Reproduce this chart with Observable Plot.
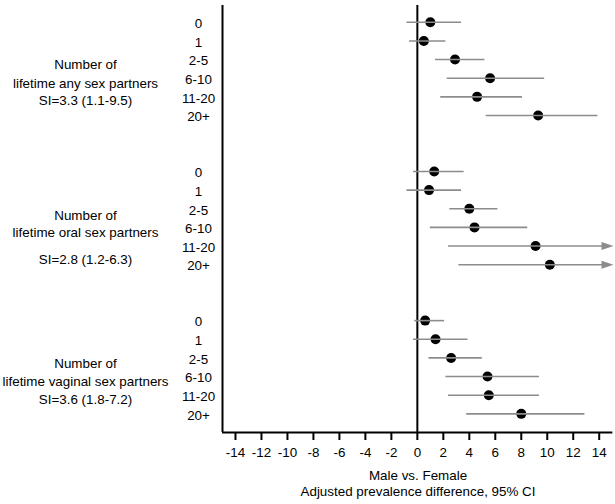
<!DOCTYPE html>
<html>
<head>
<meta charset="utf-8">
<script src="https://cdn.jsdelivr.net/npm/d3@7"></script>
<script src="https://cdn.jsdelivr.net/npm/@observablehq/plot@0.6"></script>
<style>
  html, body { margin: 0; padding: 0; background: #fff; }
</style>
</head>
<body>
<div id="chart"></div>
<script>
// ---- data ----
const categories = ["0", "1", "2-5", "6-10", "11-20", "20+"];
const groupNames = ["any", "oral", "vaginal"];
const groupLine1 = ["Number of", "Number of", "Number of"];
const groupLine2 = ["lifetime any sex partners", "lifetime oral sex partners", "lifetime vaginal sex partners"];
const groupLine3 = ["SI=3.3 (1.1-9.5)", "SI=2.8 (1.2-6.3)", "SI=3.6 (1.8-7.2)"];

const anyEst = [1.0, 0.5, 2.9, 5.6, 4.6, 9.3];
const anyLo  = [-0.8, -0.6, 1.4, 2.3, 1.8, 5.3];
const anyHi  = [3.4, 2.2, 5.2, 9.8, 8.1, 13.9];

const oralEst = [1.3, 0.9, 4.0, 4.4, 9.1, 10.2];
const oralLo  = [-0.3, -0.8, 2.5, 1.0, 2.4, 3.2];
const oralHi  = [3.6, 3.4, 6.2, 8.5, null, null]; // null = beyond axis (arrow)

const vagEst = [0.6, 1.4, 2.6, 5.4, 5.5, 8.0];
const vagLo  = [-0.2, -0.3, 0.9, 2.2, 2.4, 3.8];
const vagHi  = [2.1, 3.9, 5.0, 9.4, 9.4, 12.9];

const xTicks = [-14, -12, -10, -8, -6, -4, -2, 0, 2, 4, 6, 8, 10, 12, 14];
const xTitle1 = "Male vs. Female";
const xTitle2 = "Adjusted prevalence difference, 95% CI";

// ---- build table ----
const xMin = -15, xMax = 15.1, xLineEnd = 15.05;
const rowsPerGroup = 8;
const est = [anyEst, oralEst, vagEst];
const lo = [anyLo, oralLo, vagLo];
const hi = [anyHi, oralHi, vagHi];
const rows = [];
groupNames.forEach((g, gi) => {
  categories.forEach((c, ci) => {
    rows.push({group: g, cat: c, row: gi * rowsPerGroup + ci,
      est: est[gi][ci], lo: lo[gi][ci], hi: hi[gi][ci]});
  });
});
const closed = rows.filter(d => d.hi != null);
const open = rows.filter(d => d.hi == null);

const labels = [];
groupNames.forEach((g, gi) => {
  const s = gi * rowsPerGroup;
  const offs = gi === 1 ? [2.4, 3.3, 4.75] : [2.3, 3.27, 4.22];
  [groupLine1[gi], groupLine2[gi], groupLine3[gi]].forEach((t, li) => {
    labels.push({text: t, row: s + offs[li]});
  });
});

const gray = "#8c8c8c";
const fs = 13.4;
const arrowHead = {
  draw(ctx) {
    ctx.moveTo(0, 0);
    ctx.lineTo(-12, -4);
    ctx.lineTo(-12, 4);
    ctx.closePath();
  }
};

const chart = Plot.plot({
  width: 615,
  height: 504,
  marginTop: 5,
  marginBottom: 72,
  marginLeft: 222,
  marginRight: 2,
  style: {fontFamily: "'Liberation Sans', Arial, sans-serif", fontSize: fs + "px", color: "black", background: "white"},
  x: {domain: [xMin, xMax]},
  y: {domain: [-0.9, 22], reverse: true, axis: null},
  marks: [
    Plot.axisX({ticks: xTicks, tickSize: 8, tickPadding: 7, strokeWidth: 2, fontSize: fs,
      tickFormat: d => String(d), label: null}),
    Plot.ruleX([xMin, 0], {stroke: "black", strokeWidth: 2}),
    Plot.ruleY([22], {x1: xMin, x2: xLineEnd, stroke: "black", strokeWidth: 2}),
    Plot.dot(rows, {x: "est", y: "row", r: 5, fill: "black", stroke: null}),
    Plot.ruleY(closed, {x1: "lo", x2: "hi", y: "row", stroke: gray, strokeWidth: 1.6}),
    Plot.ruleY(open, {x1: "lo", x2: () => xMax - 0.5, y: "row", stroke: gray, strokeWidth: 1.6}),
    Plot.dot(open, {x: () => xMax, y: "row", symbol: arrowHead, fill: gray, stroke: null}),
    Plot.text(rows, {y: "row", text: "cat", frameAnchor: "left", dx: -24, dy: 1.5, textAnchor: "middle", fontSize: fs}),
    Plot.text(labels, {y: "row", text: "text", frameAnchor: "left", dx: -137, textAnchor: "middle", fontSize: fs}),
    Plot.text([xTitle1], {text: d => d, frameAnchor: "bottom", dy: 47, fontSize: fs}),
    Plot.text([xTitle2], {text: d => d, frameAnchor: "bottom", dy: 63, fontSize: fs})
  ]
});
document.getElementById("chart").appendChild(chart);
</script>
</body>
</html>
